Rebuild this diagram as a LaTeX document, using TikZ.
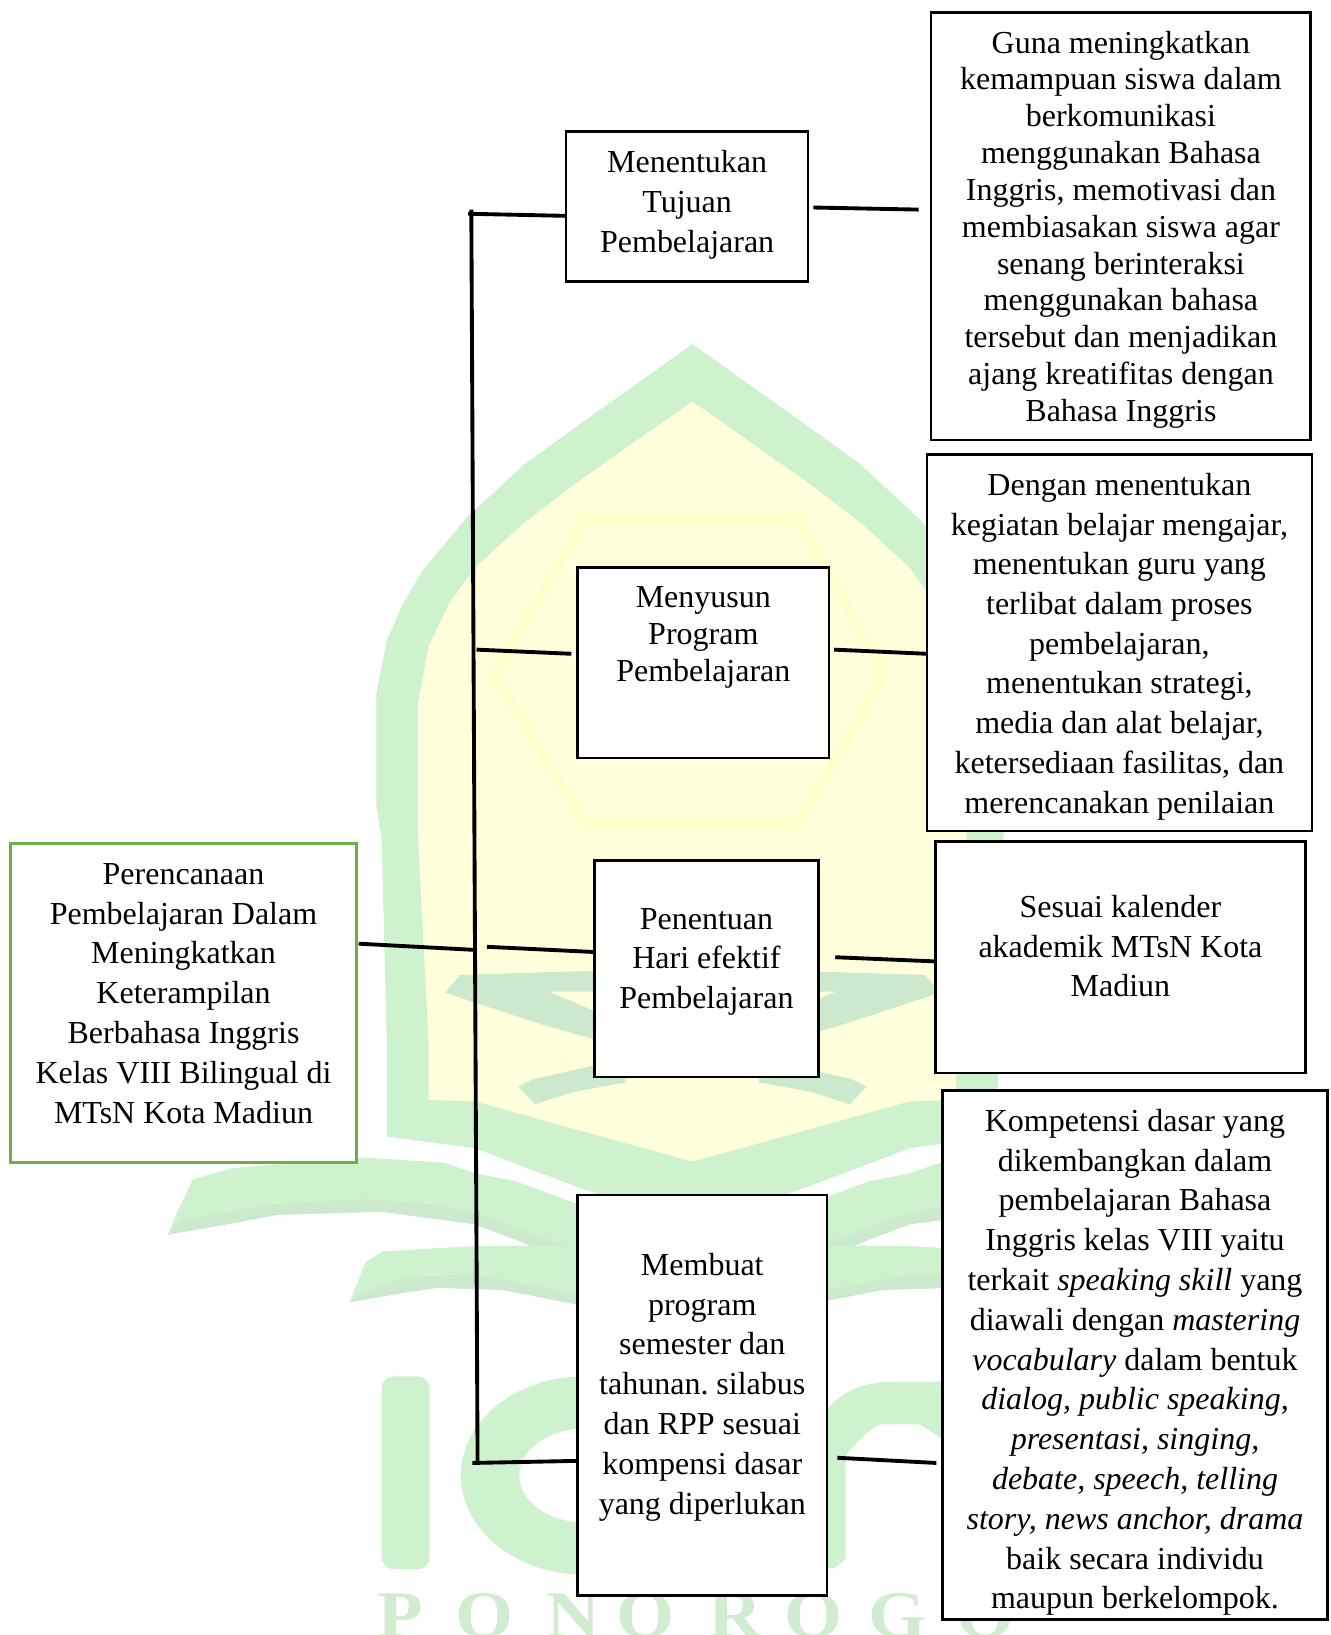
\documentclass[tikz,border=0pt]{standalone}
\usepackage{fontspec}
\setmainfont{Liberation Serif}
\frenchspacing
\newlength\bw \newlength\bh \newlength\bv \newlength\bp
\definecolor{wmgreen}{HTML}{CDF2CD}
\definecolor{wmyellow}{HTML}{FFFFDC}
\definecolor{wmhex}{HTML}{FFFFCE}
\definecolor{wmteal}{HTML}{CCE9CE}
\definecolor{wmletter}{HTML}{D2ECD2}
\definecolor{leftgreen}{HTML}{70AD47}
\tikzset{
  boxbase/.style={draw=black,fill=white,line width=1.9pt,inner sep=0pt,outer sep=0pt,rectangle},
  greenbox/.style={boxbase,draw=leftgreen},
  conn/.style={draw=black,line width=2.9pt},
  wmletterstyle/.style={text=wmletter,inner sep=0pt,anchor=base,font=\fontsize{50}{50}\bfseries\selectfont,xscale=1.12,transform shape},
}
% name, x1, y1, x2, y2, first baseline, pitch, style, text
\newcommand{\Bx}[9]{%
  \pgfmathsetlength\bw{(#4-#2)*0.7823pt}%
  \pgfmathsetlength\bh{(#5-#3)*0.7823pt}%
  \pgfmathsetlength\bv{(#6-#3)*0.7823pt-20pt}%
  \pgfmathsetlength\bp{#7*0.7823pt}%
  \node[#8] (#1) at ({(#2+#4)/2},{(#3+#5)/2}) {\parbox[c][\bh][t]{\bw}{\centering\fontsize{24pt}{\bp}\selectfont\vspace*{\bv}\rule{0pt}{20pt}#9}};%
}
\newcommand{\WmWing}{%
  % upper band
  \fill[wmgreen] (161,1184) -- (171,1160) -- (185,1131) -- (224,1120) -- (348,1110) -- (426,1115) -- (455,1125) -- (495,1133) -- (600,1172) -- (600,1230) -- (495,1189) -- (455,1174) -- (410,1168) -- (367,1162) -- (265,1165) -- (224,1173) -- cycle;
  \fill[wmteal] (161,1184) -- (173,1170) -- (259,1155) -- (348,1150) -- (415,1155) -- (455,1163) -- (600,1215) -- (600,1235) -- (495,1189) -- (455,1174) -- (410,1168) -- (367,1162) -- (265,1165) -- (224,1173) -- cycle;
  % lower band
  \fill[wmgreen] (335,1249) -- (351,1210) -- (367,1200) -- (455,1195) -- (600,1195) -- (600,1260) -- (553,1251) -- (482,1237) -- (419,1235) -- (380,1241) -- cycle;
  \fill[wmteal] (335,1249) -- (342,1243) -- (387,1225) -- (455,1222) -- (600,1250) -- (600,1260) -- (553,1251) -- (482,1237) -- (419,1235) -- (380,1241) -- cycle;
  % book shapes inside the arch
  \fill[wmteal] (427,952) -- (441,935) -- (600,930) -- (600,951) -- (526,951) -- (600,982) -- (600,1005) -- (521,983) -- (460,963) -- cycle;
  \fill[wmteal] (497,1042) -- (511,1035) -- (600,1015) -- (600,1038) -- (551,1047) -- (513,1059) -- cycle;
}
\begin{document}
\begin{tikzpicture}[x=0.7823pt,y=-0.7823pt]
\useasboundingbox (0,0) rectangle (1276,1568);
% --- watermark ---
\fill[wmgreen] (371,1090) -- (371,1000) -- (366,805) -- (361,773) -- (361,665) -- (371,614) -- (387,578) -- (406,546) -- (447,497) -- (502,446) -- (553,409) -- (664,330) -- (775,409) -- (826,446) -- (881,497) -- (922,546) -- (941,578) -- (957,614) -- (967,665) -- (967,773) -- (962,805) -- (957,1000) -- (957,1090) -- (873,1101) -- (775,1138) -- (664,1176) -- (553,1138) -- (455,1101) -- cycle;
\fill[wmyellow] (411,1055) -- (411,1000) -- (401,805) -- (401,674) -- (411,620) -- (431,578) -- (457,543) -- (502,502) -- (553,463) -- (664,385) -- (775,463) -- (826,502) -- (871,543) -- (897,578) -- (917,620) -- (927,674) -- (927,805) -- (917,1000) -- (917,1055) -- (873,1056) -- (776,1083) -- (664,1114) -- (552,1083) -- (455,1056) -- cycle;
\draw[wmhex,line width=8pt] (474,647) -- (562,498) -- (766,498) -- (848,647) -- (766,790) -- (562,790) -- cycle;
\WmWing
\begin{scope}[shift={(1328,0)},xscale=-1]
\WmWing
\end{scope}
\fill[wmgreen,rounded corners=9pt] (366,1320) rectangle (412,1505);
\fill[wmgreen,even odd rule] (560,1415) ellipse [x radius=118,y radius=95] (560,1415) ellipse [x radius=62,y radius=45];
\fill[wmgreen] (793,1504) -- (793,1352) .. controls (810,1332) and (830,1325) .. (860,1325) -- (904,1325) -- (904,1380) -- (882,1366) -- (845,1366) .. controls (830,1372) and (820,1385) .. (811,1396) -- (811,1495) -- (800,1504) -- cycle;
\node[wmletterstyle] (wp1) at (384,1570) {P};
\node[wmletterstyle] (wo1) at (465,1570) {O};
\node[wmletterstyle] (wn) at (550,1570) {N};
\node[wmletterstyle] (wo2) at (619,1570) {O};
\node[wmletterstyle] (wr) at (705,1570) {R};
\node[wmletterstyle] (wo3) at (780,1570) {O};
\node[wmletterstyle] (wg) at (861,1570) {G};
\node[wmletterstyle] (wo4) at (945,1570) {O};
% --- boxes ---
\Bx{tA}{893}{12}{1257}{422}{51}{35.3}{boxbase}{Guna meningkatkan\\kemampuan siswa dalam\\berkomunikasi\\menggunakan Bahasa\\Inggris, memotivasi dan\\membiasakan siswa agar\\senang berinteraksi\\menggunakan bahasa\\tersebut dan menjadikan\\ajang kreatifitas dengan\\Bahasa Inggris}
\Bx{tB}{889}{436}{1258}{797}{475}{38.1}{boxbase}{Dengan menentukan\\kegiatan belajar mengajar,\\menentukan guru yang\\terlibat dalam proses\\pembelajaran,\\menentukan strategi,\\media dan alat belajar,\\ketersediaan fasilitas, dan\\merencanakan penilaian}
\Bx{tC}{897}{807}{1252}{1029}{880}{38}{boxbase}{Sesuai kalender\\akademik MTsN Kota\\Madiun}
\Bx{tD}{904}{1046}{1273}{1553}{1085}{38.17}{boxbase}{Kompetensi dasar yang\\dikembangkan dalam\\pembelajaran Bahasa\\Inggris kelas VIII yaitu\\terkait \textit{speaking skill} yang\\diawali dengan \textit{mastering}\\\textit{vocabulary} dalam bentuk\\\textit{dialog, public speaking,}\\\textit{presentasi, singing,}\\\textit{debate, speech, telling}\\\textit{story, news anchor, drama}\\baik secara individu\\maupun berkelompok.}
\Bx{bA}{543}{126}{775}{270}{165}{38.5}{boxbase}{Menentukan\\Tujuan\\Pembelajaran}
\Bx{bB}{554}{544}{795}{727}{583}{35.5}{boxbase}{Menyusun\\Program\\Pembelajaran}
\Bx{bC}{570}{825}{785}{1033}{891}{38}{boxbase}{Penentuan\\Hari efektif\\Pembelajaran}
\Bx{bD}{554}{1146}{793}{1530}{1223}{38.2}{boxbase}{Membuat\\program\\semester dan\\tahunan. silabus\\dan RPP sesuai\\kompensi dasar\\yang diperlukan}
\Bx{root}{10}{809}{342}{1115}{848}{38.2}{greenbox}{Perencanaan\\Pembelajaran Dalam\\Meningkatkan\\Keterampilan\\Berbahasa Inggris\\Kelas VIII Bilingual di\\MTsN Kota Madiun}
% --- connector free ends ---
\coordinate (spTop) at (452,201);
\coordinate (spBot) at (458,1403);
\coordinate (aL) at (449,205);
\coordinate (aR1) at (780,199);
\coordinate (aR2) at (881,201);
\coordinate (bL1) at (457,623);
\coordinate (bL2) at (548,627);
\coordinate (bR1) at (800,623);
\coordinate (rEnd1) at (344,905);
\coordinate (rEnd2) at (456,911);
\coordinate (cL1) at (467,908);
\coordinate (cR1) at (801,918);
\coordinate (dL1) at (453,1403);
\coordinate (dR1) at (803,1398);
\coordinate (dR2) at (898,1403);
% --- connectors ---
\draw[conn] (spTop) -- (spBot);
\draw[conn] (aL) -- (bA.west |- 0,207);
\draw[conn] (aR1) -- (aR2);
\draw[conn] (bL1) -- (bL2);
\draw[conn] (bR1) -- (tB.west |- 0,627);
\draw[conn] (rEnd1) -- (rEnd2);
\draw[conn] (cL1) -- (bC.west |- 0,913);
\draw[conn] (cR1) -- (tC.west |- 0,922);
\draw[conn] (dL1) -- (bD.west |- 0,1401);
\draw[conn] (dR1) -- (dR2);
\end{tikzpicture}
\end{document}
